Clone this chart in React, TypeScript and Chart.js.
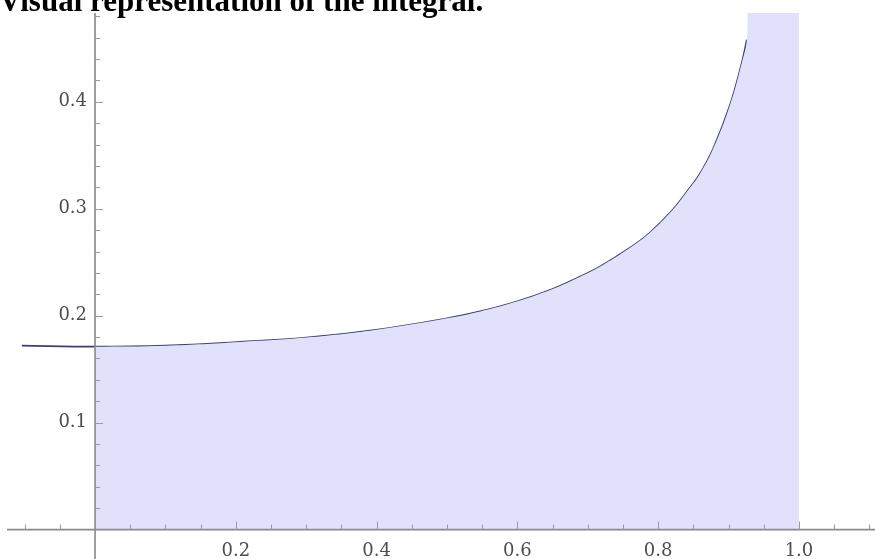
import React, { useEffect, useRef } from "react";
import { Chart, registerables } from "chart.js";

Chart.register(...registerables);

const TITLE = "Visual representation of the integral.";

// curve
const CURVE_X = [-0.104, 0, 0.1, 0.206, 0.3, 0.405, 0.5, 0.547, 0.6, 0.65, 0.689, 0.717, 0.76, 0.788, 0.82, 0.845, 0.86, 0.878, 0.902, 0.919, 0.926];
const CURVE_Y = [0.172, 0.171, 0.172, 0.1755, 0.1795, 0.1873, 0.1975, 0.204, 0.2135, 0.225, 0.2365, 0.2458, 0.2635, 0.2775, 0.2985, 0.3195, 0.3335, 0.356, 0.397, 0.437, 0.458];

// shaded region: under the curve from 0, then full height up to 1.0
const FILL_END_X = [0.935, 1.0];
const FILL_END_Y = [0.55, 0.55];

const X_MIN = -0.135;
const X_MAX = 1.108;
const Y_MIN = -0.0275;
const Y_MAX = 0.483;
const X_AXIS_START = -0.125;

const X_MAJOR = [0.2, 0.4, 0.6, 0.8, 1.0];
const X_LABELS = ["0.2", "0.4", "0.6", "0.8", "1.0"];
const X_MINOR = [-0.1, -0.05, 0.05, 0.1, 0.15, 0.25, 0.3, 0.35, 0.45, 0.5, 0.55, 0.65, 0.7, 0.75, 0.85, 0.9, 0.95, 1.05, 1.1];

const Y_MAJOR = [0.1, 0.2, 0.3, 0.4];
const Y_LABELS = ["0.1", "0.2", "0.3", "0.4"];
const Y_MINOR = [0.02, 0.04, 0.06, 0.08, 0.12, 0.14, 0.16, 0.18, 0.22, 0.24, 0.26, 0.28, 0.32, 0.34, 0.36, 0.38, 0.42, 0.44, 0.46, 0.48];

const curvePoints = CURVE_X.map((x, i) => ({ x, y: CURVE_Y[i] }));
const curveFromZero = curvePoints.filter((p) => p.x >= 0);
const fillPoints = [
  ...curveFromZero,
  ...FILL_END_X.map((x, i) => ({ x, y: FILL_END_Y[i] })),
];

const axesPlugin = {
  id: "mathAxes",
  afterDatasetsDraw(chart: any) {
    const { ctx } = chart;
    const xs = chart.scales.x;
    const ys = chart.scales.y;
    const x0 = xs.getPixelForValue(0);
    const y0 = ys.getPixelForValue(0);
    ctx.save();
    ctx.strokeStyle = "#8a8a8a";
    ctx.lineWidth = 1.6;
    ctx.beginPath();
    ctx.moveTo(xs.getPixelForValue(X_AXIS_START), y0);
    ctx.lineTo(chart.width, y0);
    ctx.moveTo(x0, chart.chartArea.top);
    ctx.lineTo(x0, chart.height);
    ctx.stroke();

    ctx.lineWidth = 1;
    ctx.strokeStyle = "#999999";
    ctx.beginPath();
    X_MAJOR.forEach((v) => {
      const px = Math.round(xs.getPixelForValue(v)) + 0.5;
      ctx.moveTo(px, y0);
      ctx.lineTo(px, y0 - 8);
    });
    X_MINOR.forEach((v) => {
      const px = Math.round(xs.getPixelForValue(v)) + 0.5;
      ctx.moveTo(px, y0);
      ctx.lineTo(px, y0 - 5);
    });
    Y_MAJOR.forEach((v) => {
      const py = Math.round(ys.getPixelForValue(v)) + 0.5;
      ctx.moveTo(x0, py);
      ctx.lineTo(x0 + 8, py);
    });
    Y_MINOR.forEach((v) => {
      const py = Math.round(ys.getPixelForValue(v)) + 0.5;
      ctx.moveTo(x0, py);
      ctx.lineTo(x0 + 5, py);
    });
    ctx.stroke();

    ctx.fillStyle = "#4d4d4d";
    ctx.font = '18px "DejaVu Serif"';
    ctx.textAlign = "center";
    ctx.textBaseline = "alphabetic";
    X_MAJOR.forEach((v, i) => {
      ctx.fillText(X_LABELS[i], xs.getPixelForValue(v), y0 + 26);
    });
    ctx.textAlign = "right";
    ctx.textBaseline = "middle";
    Y_MAJOR.forEach((v, i) => {
      ctx.fillText(Y_LABELS[i], x0 - 8, ys.getPixelForValue(v));
    });

    ctx.fillStyle = "#000000";
    ctx.font = 'bold 31px "Liberation Serif"';
    ctx.textAlign = "left";
    ctx.textBaseline = "alphabetic";
    ctx.fillText(TITLE, -1, 11);
    ctx.restore();
  },
};

export default function App() {
  const ref = useRef<HTMLCanvasElement>(null);
  useEffect(() => {
    if (!ref.current) return;
    const chart = new Chart(ref.current, {
      type: "line",
      data: {
        datasets: [
          {
            data: fillPoints,
            borderWidth: 0,
            borderColor: "rgba(0,0,0,0)",
            backgroundColor: "#e1e1fb",
            fill: "origin",
            pointRadius: 0,
            tension: 0.4,
          },
          {
            data: curvePoints,
            borderWidth: 1.7,
            borderColor: "#3c3c7c",
            fill: false,
            pointRadius: 0,
            tension: 0.4,
          },
        ],
      },
      options: {
        animation: false,
        responsive: false,
        maintainAspectRatio: false,
        layout: { padding: { top: 13, left: 0, right: 0, bottom: 0 } },
        plugins: { legend: { display: false }, tooltip: { enabled: false }, title: { display: false } },
        scales: {
          x: { type: "linear", min: X_MIN, max: X_MAX, display: false },
          y: { type: "linear", min: Y_MIN, max: Y_MAX, display: false },
        },
      },
      plugins: [axesPlugin],
    });
    return () => chart.destroy();
  }, []);
  return (
    <div style={{ position: "fixed", left: 0, top: 0, width: 875, height: 559, background: "#fff" }}>
      <canvas ref={ref} width={875} height={559} style={{ display: "block" }} />
    </div>
  );
}
